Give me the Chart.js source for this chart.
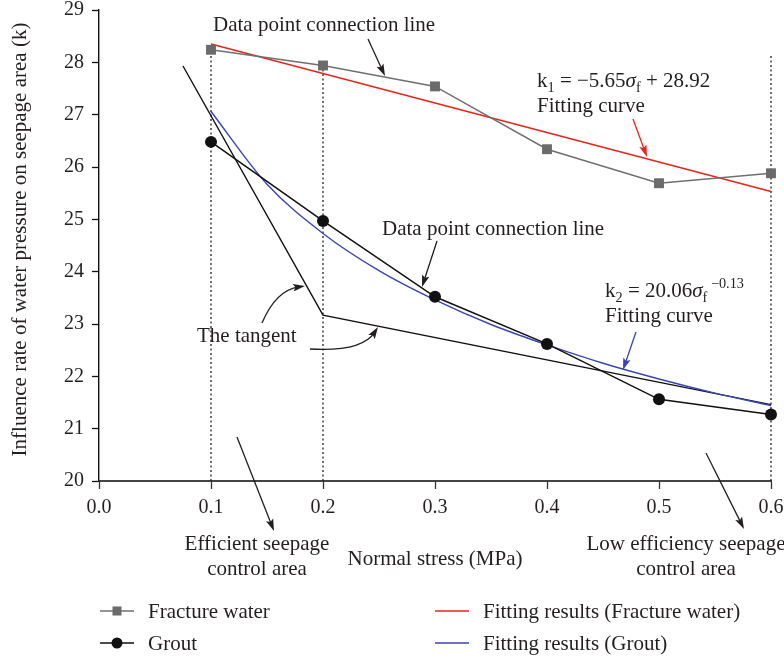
<!DOCTYPE html>
<html>
<head>
<meta charset="utf-8">
<script src="https://cdn.jsdelivr.net/npm/chart.js@4.4.1/dist/chart.umd.min.js"></script>
<style>
  html, body { margin: 0; padding: 0; background: #fff; }
  canvas { display: block; }
</style>
</head>
<body>
<canvas id="seepageChart" width="784" height="660"></canvas>
<script>
// measured points (normal stress in MPa)
const stressValues = [0.1, 0.2, 0.3, 0.4, 0.5, 0.6];
const fractureWater = [28.24, 27.94, 27.54, 26.34, 25.69, 25.88];
const groutValues = [26.48, 24.97, 23.52, 22.62, 21.56, 21.27];

// fitted lines
const fitFractureX = [0.1, 0.6];
const fitFractureY = [28.35, 25.53];
const fitGroutX = [0.1, 0.15, 0.2, 0.25, 0.3, 0.35, 0.4, 0.45, 0.5, 0.55, 0.6];
const fitGroutY = [27.06, 25.67, 24.73, 24.02, 23.46, 22.99, 22.60, 22.25, 21.95, 21.68, 21.44];

// the two tangent segments
const tangentX = [0.075, 0.2, 0.6];
const tangentY = [27.93, 23.17, 21.46];

// dotted guide lines (x, top value)
const guideX = [0.1, 0.2, 0.6];
const guideTop = [28.24, 27.94, 28.15];

const xTickValues = [0, 0.1, 0.2, 0.3, 0.4, 0.5, 0.6];
const yMin = 20, yMax = 29;

const SERIF = "'Liberation Serif', 'DejaVu Serif', serif";
const TEXT = '#231f20';
const GRAY = '#707070';
const RED = '#e8231b';
const BLUE = '#3a45b3';

const pts = (xs, ys) => xs.map((x, i) => ({ x: x, y: ys[i] }));

const guideSets = guideX.map((x, i) => ({
    label: 'guide',
    data: [{ x: x, y: yMin }, { x: x, y: guideTop[i] }],
    borderColor: '#111',
    borderWidth: 1.2,
    borderDash: [2, 2.5],
    pointRadius: 0,
    order: 10
}));

// text with sub / superscripts
function richText(ctx, parts, x, y, size) {
    let cx = x;
    parts.forEach(function(p) {
        let fs = size, dy = 0, style = '';
        if (p[1] === 'sub') { fs = size * 0.68; dy = size * 0.24; }
        if (p[1] === 'sup') { fs = size * 0.68; dy = -size * 0.45; }
        if (p[1] === 'it') style = 'italic ';
        ctx.font = style + fs + 'px ' + SERIF;
        ctx.fillText(p[0], cx, y + dy);
        cx += ctx.measureText(p[0]).width;
    });
}

function arrowHead(ctx, x, y, ang, len, half) {
    ctx.beginPath();
    ctx.moveTo(x, y);
    ctx.lineTo(x - len * Math.cos(ang) + half * Math.sin(ang), y - len * Math.sin(ang) - half * Math.cos(ang));
    ctx.lineTo(x - len * Math.cos(ang) * 0.8, y - len * Math.sin(ang) * 0.8);
    ctx.lineTo(x - len * Math.cos(ang) - half * Math.sin(ang), y - len * Math.sin(ang) + half * Math.cos(ang));
    ctx.closePath();
    ctx.fill();
}

function arrow(ctx, x1, y1, x2, y2, color) {
    const ang = Math.atan2(y2 - y1, x2 - x1);
    ctx.strokeStyle = color;
    ctx.fillStyle = color;
    ctx.lineWidth = 1.3;
    ctx.beginPath();
    ctx.moveTo(x1, y1);
    ctx.lineTo(x2 - Math.cos(ang) * 6, y2 - Math.sin(ang) * 6);
    ctx.stroke();
    arrowHead(ctx, x2, y2, ang, 12, 3.8);
}

function curvedArrow(ctx, x1, y1, cx, cy, x2, y2) {
    const ang = Math.atan2(y2 - cy, x2 - cx);
    ctx.strokeStyle = TEXT;
    ctx.fillStyle = TEXT;
    ctx.lineWidth = 1.3;
    ctx.beginPath();
    ctx.moveTo(x1, y1);
    ctx.quadraticCurveTo(cx, cy, x2 - Math.cos(ang) * 6, y2 - Math.sin(ang) * 6);
    ctx.stroke();
    arrowHead(ctx, x2, y2, ang, 12, 3.8);
}

const annotationPlugin = {
    id: 'annotations',
    afterDraw(chart) {
        const ctx = chart.ctx;
        const area = chart.chartArea;
        ctx.save();
        ctx.fillStyle = TEXT;
        ctx.textAlign = 'left';
        ctx.textBaseline = 'alphabetic';
        const fs = 21;
        ctx.font = fs + 'px ' + SERIF;

        ctx.fillText('Data point connection line', 213, 31);
        arrow(ctx, 368, 39, 385, 76, TEXT);

        ctx.fillStyle = TEXT;
        richText(ctx, [['k', 'n'], ['1', 'sub'], [' = \u22125.65', 'n'], ['\u03c3', 'it'], ['f', 'sub'], [' + 28.92', 'n']], 537, 87, fs);
        ctx.font = fs + 'px ' + SERIF;
        ctx.fillText('Fitting curve', 537, 112);
        arrow(ctx, 633, 119, 647, 157, RED);

        ctx.fillStyle = TEXT;
        ctx.font = fs + 'px ' + SERIF;
        ctx.fillText('Data point connection line', 382, 235);
        arrow(ctx, 437, 241, 422, 287, TEXT);

        ctx.fillStyle = TEXT;
        richText(ctx, [['k', 'n'], ['2', 'sub'], [' = 20.06', 'n'], ['\u03c3', 'it'], ['f', 'sub'], [' \u22120.13', 'sup']], 605, 297, fs);
        ctx.font = fs + 'px ' + SERIF;
        ctx.fillText('Fitting curve', 605, 322);
        arrow(ctx, 636, 332, 623, 370, BLUE);

        ctx.fillStyle = TEXT;
        ctx.font = fs + 'px ' + SERIF;
        ctx.fillText('The tangent', 197, 342);
        curvedArrow(ctx, 262, 323, 276, 290, 305, 286);
        curvedArrow(ctx, 310, 349, 362, 352, 378, 327);

        // area notes under the axis
        arrow(ctx, 237, 437, 274, 531, TEXT);
        arrow(ctx, 706, 453, 744, 529, TEXT);
        ctx.fillStyle = TEXT;
        ctx.font = fs + 'px ' + SERIF;
        ctx.textAlign = 'center';
        ctx.fillText('Efficient seepage', 257, 550);
        ctx.fillText('control area', 257, 575);
        ctx.fillText('Low efficiency seepage', 686, 550);
        ctx.fillText('control area', 686, 575);

        // axis titles
        ctx.textBaseline = 'middle';
        ctx.fillText('Normal stress (MPa)', (area.left + area.right) / 2, 559);
        ctx.save();
        ctx.translate(20, (area.top + area.bottom) / 2 - 6);
        ctx.rotate(-Math.PI / 2);
        ctx.fillText('Influence rate of water pressure on seepage area (k)', 0, 0);
        ctx.restore();

        // legend
        const ds = chart.data.datasets;
        const items = [
            { d: ds[0], lx: 100, y: 611 },
            { d: ds[1], lx: 100, y: 643 },
            { d: ds[2], lx: 435, y: 611 },
            { d: ds[3], lx: 435, y: 643 }
        ];
        items.forEach(function(it) {
            const d = it.d;
            ctx.strokeStyle = d.borderColor;
            ctx.lineWidth = d.borderWidth;
            ctx.beginPath();
            ctx.moveTo(it.lx, it.y);
            ctx.lineTo(it.lx + 34, it.y);
            ctx.stroke();
            if (d.pointRadius > 0) {
                ctx.fillStyle = d.pointBackgroundColor;
                if (d.pointStyle === 'rect') {
                    ctx.fillRect(it.lx + 17 - 4.5, it.y - 4.5, 9, 9);
                } else {
                    ctx.beginPath();
                    ctx.arc(it.lx + 17, it.y, 5.5, 0, Math.PI * 2);
                    ctx.fill();
                }
            }
            ctx.fillStyle = TEXT;
            ctx.font = fs + 'px ' + SERIF;
            ctx.textAlign = 'left';
            ctx.textBaseline = 'middle';
            ctx.fillText(d.label, it.lx + 48, it.y + 1);
        });
        ctx.restore();
    }
};

const ctx = document.getElementById('seepageChart').getContext('2d');
const seepageChart = new Chart(ctx, {
    type: 'line',
    data: {
        datasets: [{
            label: 'Fracture water',
            data: pts(stressValues, fractureWater),
            borderColor: GRAY,
            borderWidth: 1.5,
            pointStyle: 'rect',
            pointRadius: 7,
            pointBackgroundColor: '#6b6b6b',
            pointBorderWidth: 0,
            order: 0
        }, {
            label: 'Grout',
            data: pts(stressValues, groutValues),
            borderColor: '#111',
            borderWidth: 1.5,
            pointStyle: 'circle',
            pointRadius: 6,
            pointBackgroundColor: '#111',
            pointBorderWidth: 0,
            order: 1
        }, {
            label: 'Fitting results (Fracture water)',
            data: pts(fitFractureX, fitFractureY),
            borderColor: RED,
            borderWidth: 1.5,
            pointRadius: 0,
            order: 2
        }, {
            label: 'Fitting results (Grout)',
            data: pts(fitGroutX, fitGroutY),
            borderColor: BLUE,
            borderWidth: 1.4,
            pointRadius: 0,
            cubicInterpolationMode: 'monotone',
            order: 3
        }, {
            label: 'The tangent',
            data: pts(tangentX, tangentY),
            borderColor: '#111',
            borderWidth: 1.4,
            pointRadius: 0,
            order: 4
        }].concat(guideSets)
    },
    options: {
        responsive: false,
        animation: false,
        clip: false,
        layout: { padding: { top: 10, right: 13, left: 0, bottom: 0 } },
        plugins: {
            legend: { display: false },
            tooltip: { enabled: false }
        },
        scales: {
            x: {
                type: 'linear',
                min: 0,
                max: 0.6,
                afterFit: function(scale) {
                    scale.height = 179;
                    scale.paddingLeft = 0;
                    scale.paddingRight = 0;
                },
                afterBuildTicks: function(scale) {
                    scale.ticks = xTickValues.map(v => ({ value: v }));
                },
                ticks: {
                    color: TEXT,
                    padding: 7,
                    font: { family: SERIF, size: 20 },
                    callback: v => Number(v).toFixed(1)
                },
                grid: {
                    drawOnChartArea: false,
                    drawTicks: true,
                    tickLength: 8,
                    tickColor: '#333',
                    tickWidth: 1.3
                },
                border: { color: '#444', width: 2 }
            },
            y: {
                type: 'linear',
                min: yMin,
                max: yMax,
                afterFit: function(scale) {
                    scale.width = 99;
                    scale.paddingTop = 0;
                    scale.paddingBottom = 0;
                },
                ticks: {
                    stepSize: 1,
                    color: TEXT,
                    padding: 8,
                    font: { family: SERIF, size: 20 }
                },
                grid: {
                    drawOnChartArea: false,
                    drawTicks: true,
                    tickLength: 7,
                    tickColor: '#111',
                    tickWidth: 1.3
                },
                border: { color: '#111', width: 1.4 }
            }
        }
    },
    plugins: [annotationPlugin]
});
</script>
</body>
</html>
